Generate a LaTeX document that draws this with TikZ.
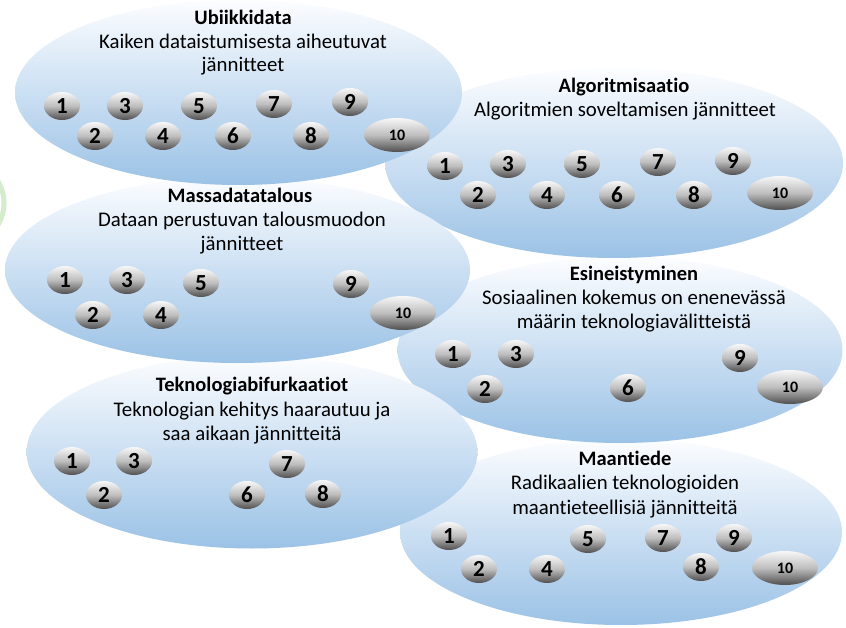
\documentclass[tikz,border=0pt]{standalone}
\usepackage{fontspec}
\setmainfont[RawFeature=-liga]{Carlito}
\usetikzlibrary{shapes.geometric}
\definecolor{cloudtop}{RGB}{252,253,255}
\definecolor{cloudbot}{RGB}{155,194,230}
\definecolor{pilltop}{RGB}{247,247,247}
\definecolor{pillmid}{RGB}{190,190,190}
\definecolor{pillbot}{RGB}{80,78,78}
\definecolor{greenring}{RGB}{212,236,204}
\tikzset{
  cloud/.style={ellipse, inner sep=0pt, top color=cloudtop, bottom color=cloudbot, draw=none},
  pill/.style={ellipse, inner sep=0pt, minimum width=36pt, minimum height=28pt,
     top color=pilltop, bottom color=pillbot, middle color=pillmid,
     font=\fontsize{23}{24}\selectfont\bfseries},
  pillwide/.style={pill, minimum width=66pt, minimum height=34pt,
     font=\fontsize{16}{17}\selectfont\bfseries},
  ttl/.style={anchor=base, inner sep=0pt, font=\fontsize{20.5}{22}\selectfont\bfseries},
  txt/.style={anchor=base, inner sep=0pt, font=\fontsize{20.8}{22}\selectfont},
}
\begin{document}
\begin{tikzpicture}[x=1pt,y=-1pt]
\useasboundingbox (0,0) rectangle (846,628);
\fill[white] (0,0) rectangle (846,628);
% green ring at left edge
\node[circle, minimum size=84pt, inner sep=0pt, draw=greenring, line width=5pt, fill=white] (gr) at (-38,203) {};
% clouds, drawn from back to front
\node[cloud, minimum width=442pt, minimum height=186pt] (c6) at (621,532) {};
\node[cloud, minimum width=445pt, minimum height=186pt] (c4) at (620,350) {};
\node[cloud, minimum width=458pt, minimum height=190pt] (c2) at (614,163) {};
\node[cloud, minimum width=451pt, minimum height=193pt] (c5) at (252,452) {};
\node[cloud, minimum width=465pt, minimum height=186pt] (c3) at (237.5,270) {};
\node[cloud, minimum width=447pt, minimum height=185pt] (c1) at (238.5,92.5) {};

% Ubiikkidata
\node[ttl] (t1) at (243,25) {Ubiikkidata};
\node[txt] (t1a) at (243,49) {Kaiken dataistumisesta aiheutuvat};
\node[txt] (t1b) at (243,72) {jännitteet};
\node[pill] (u1) at (62,106) {1};
\node[pill] (u3) at (125,106) {3};
\node[pill] (u5) at (199,106) {5};
\node[pill] (u7) at (274,104) {7};
\node[pill] (u9) at (350,102) {9};
\node[pill] (u2) at (95,136) {2};
\node[pill] (u4) at (163,136) {4};
\node[pill] (u6) at (233,136) {6};
\node[pill] (u8) at (311,136) {8};
\node[pillwide] (u10) at (397,135) {10};

% Algoritmisaatio
\node[ttl] (t2) at (624,92.5) {Algoritmisaatio};
\node[txt] (t2a) at (625,116.5) {Algoritmien soveltamisen jännitteet};
\node[pill] (a1) at (445,166) {1};
\node[pill] (a3) at (508,164) {3};
\node[pill] (a5) at (582,164) {5};
\node[pill] (a7) at (658,162) {7};
\node[pill] (a9) at (733,161) {9};
\node[pill] (a2) at (478,195) {2};
\node[pill] (a4) at (547,195) {4};
\node[pill] (a6) at (617,195) {6};
\node[pill] (a8) at (694,195) {8};
\node[pillwide] (a10) at (780,193) {10};

% Massadatatalous
\node[ttl] (t3) at (240,202.5) {Massadatatalous};
\node[txt] (t3a) at (242,227) {Dataan perustuvan talousmuodon};
\node[txt] (t3b) at (242,251) {jännitteet};
\node[pill] (m1) at (65,280) {1};
\node[pill] (m3) at (127,280) {3};
\node[pill] (m5) at (201,283) {5};
\node[pill] (m9) at (351,284) {9};
\node[pill] (m2) at (93,315) {2};
\node[pill] (m4) at (161,315) {4};
\node[pillwide] (m10) at (403,313) {10};

% Esineistyminen
\node[ttl] (t4) at (634,280.5) {Esineistyminen};
\node[txt] (t4a) at (634,305) {Sosiaalinen kokemus on enenevässä};
\node[txt] (t4b) at (634,328) {määrin teknologiavälitteistä};
\node[pill] (e1) at (453,354) {1};
\node[pill] (e3) at (516,354) {3};
\node[pill] (e2) at (485,389) {2};
\node[pill] (e6) at (628,388) {6};
\node[pill] (e9) at (740,358) {9};
\node[pillwide] (e10) at (790,387) {10};

% Teknologiabifurkaatiot
\node[ttl] (t5) at (252,391.5) {Teknologiabifurkaatiot};
\node[txt] (t5a) at (252,416.5) {Teknologian kehitys haarautuu ja};
\node[txt] (t5b) at (252,440) {saa aikaan jännitteitä};
\node[pill] (k1) at (72,461) {1};
\node[pill] (k3) at (134,461) {3};
\node[pill] (k7) at (287,464) {7};
\node[pill] (k2) at (104,495) {2};
\node[pill] (k6) at (247,495) {6};
\node[pill] (k8) at (323,494) {8};

% Maantiede
\node[ttl] (t6) at (625,465) {Maantiede};
\node[txt] (t6a) at (625,489.5) {Radikaalien teknologioiden};
\node[txt] (t6b) at (625,514) {maantieteellisiä jännitteitä};
\node[pill] (g1) at (449,536) {1};
\node[pill] (g5) at (588,539) {5};
\node[pill] (g7) at (663,538) {7};
\node[pill] (g9) at (734,538) {9};
\node[pill] (g2) at (479,569) {2};
\node[pill] (g4) at (547,569) {4};
\node[pill] (g8) at (701,567) {8};
\node[pillwide] (g10) at (785,568) {10};
\end{tikzpicture}
\end{document}
